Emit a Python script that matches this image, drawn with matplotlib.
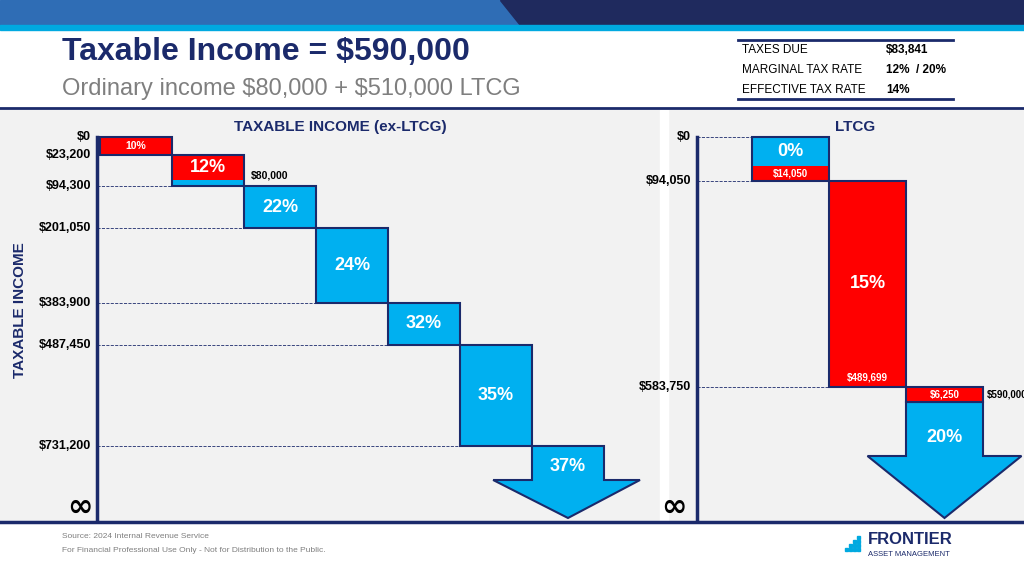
import matplotlib
matplotlib.use("Agg")
import numpy as np
import matplotlib.pyplot as plt
from matplotlib.patches import Rectangle, Polygon

plt.rcParams['font.family'] = ['Liberation Sans', 'DejaVu Sans']
NAVY = "#1B2A6B"; BLUE = "#00B0F0"; RED = "#FF0000"; GREY = "#7F7F7F"

# Ordinary income brackets (ex-LTCG)
ord_rates = ["10%", "12%", "22%", "24%", "32%", "35%", "37%"]
ord_lo = [0, 23200, 94300, 201050, 383900, 487450, 731200]
ord_hi = [23200, 94300, 201050, 383900, 487450, 731200, None]
ord_ticks = [0, 23200, 94300, 201050, 383900, 487450, 731200]
ord_tick_labels = ["$0", "$23,200", "$94,300", "$201,050", "$383,900", "$487,450", "$731,200"]
ordinary_income = 80000

# LTCG brackets
lt_rates = ["0%", "15%", "20%"]
lt_lo = [0, 94050, 583750]
lt_hi = [94050, 583750, None]
lt_ticks = [0, 94050, 583750]
lt_tick_labels = ["$0", "$94,050", "$583,750"]
lt_filled = ["$14,050", "$489,699", "$6,250"]
total_income = 590000

summary_labels = ["TAXES DUE", "MARGINAL TAX RATE", "EFFECTIVE TAX RATE"]
summary_values = ["$83,841", "12%  / 20%", "14%"]

W, H = 1024, 572
fig = plt.figure(figsize=(W/100, H/100), dpi=100)
bg = fig.add_axes([0, 0, 1, 1]); bg.set_xlim(0, W); bg.set_ylim(H, 0); bg.axis("off")

# header
bg.add_patch(Rectangle((0, 0), W, 25, color="#2F6DB5"))
bg.add_patch(Polygon([(500, 0), (W, 0), (W, 25), (520, 25)], color="#1F2A5E"))
bg.add_patch(Rectangle((0, 25), W, 5, color="#00A9E0"))
bg.text(62, 52, "Taxable Income = \\$590,000", fontsize=23, fontweight="bold", color=NAVY, va="center")
bg.text(62, 89, "Ordinary income \\$80,000 + \\$510,000 LTCG", fontsize=17, color=GREY, va="center")
bg.plot([738, 953], [40, 40], color=NAVY, lw=2)
bg.plot([738, 953], [99, 99], color=NAVY, lw=2)
for i, (l, v) in enumerate(zip(summary_labels, summary_values)):
    y = 50 + i * 20
    bg.text(742, y, l, fontsize=8.5, color="black", va="center")
    bg.text(886, y, v.replace("$", "\\$"), fontsize=8.5, fontweight="bold", color="black", va="center")
bg.add_patch(Rectangle((0, 110), W, 412, color="#F2F2F2"))
bg.add_patch(Rectangle((660, 110), 8, 412, color="white"))
bg.plot([0, W], [108, 108], color=NAVY, lw=2)
bg.plot([0, W], [522, 522], color=NAVY, lw=2.5)
bg.text(340, 127, "TAXABLE INCOME (ex-LTCG)", fontsize=11, fontweight="bold", color=NAVY, ha="center", va="center")
bg.text(855, 127, "LTCG", fontsize=11, fontweight="bold", color=NAVY, ha="center", va="center")
bg.text(20, 310, "TAXABLE INCOME", fontsize=11, fontweight="bold", color=NAVY, rotation=90, ha="center", va="center")
bg.text(80, 507, "∞", fontsize=22, fontweight="bold", color="black", ha="center", va="center", family="DejaVu Sans")
bg.text(674, 507, "∞", fontsize=22, fontweight="bold", color="black", ha="center", va="center", family="DejaVu Sans")
bg.text(62, 537, "Source: 2024 Internal Revenue Service", fontsize=6, color=GREY, va="center")
bg.text(62, 550, "For Financial Professional Use Only - Not for Distribution to the Public.", fontsize=6, color=GREY, va="center")
bg.text(868, 540, "FRONTIER", fontsize=12, fontweight="bold", color=NAVY, va="center")
bg.text(868, 555, "ASSET MANAGEMENT", fontsize=5.5, color=NAVY, va="center")
for r in range(4):
    for c in range(r + 1):
        bg.add_patch(Rectangle((845 + 4*c - 4*r + 12, 536 + 4*r), 3, 3, color="#00A9E0"))

def make_scale(vals, pix):
    v = np.asarray(vals, float); p = np.asarray(pix, float)
    fwd = lambda y: np.interp(y, v, p)
    inv = lambda q: np.interp(q, p, v)
    return fwd, inv

def panel(x0, x1, first_x, bw, fwd, inv, ticks, labels, axis_x):
    y_top_px, y_bot_px = 110, 522
    ax = fig.add_axes([x0/W, 1 - y_bot_px/H, (x1-x0)/W, (y_bot_px-y_top_px)/H])
    ax.set_yscale('function', functions=(fwd, inv))
    ax.set_xlim(-(first_x - x0)/bw, (x1 - first_x)/bw)
    ax.set_ylim(inv(y_bot_px), inv(y_top_px))
    ax.axis("off")
    axx = ax.get_xlim()[0] + (axis_x - x0)/bw
    ax.plot([axx, axx], [0, inv(y_bot_px)], color=NAVY, lw=2.5)
    for i, (t, lab) in enumerate(zip(ticks, labels)):
        ax.plot([axx, i], [t, t], ls="--", color=NAVY, lw=0.6)
        ax.text(axx - 0.08, t, lab.replace("$", "\\$"), fontsize=9, fontweight="bold", ha="right", va="center")
    return ax

# left panel pixel anchors of the bracket ticks (non-uniform spacing as drawn)
f1, i1 = make_scale([-100000] + ord_ticks + [2000000],
                    [59.4, 137, 155, 186, 228, 303, 345, 446, 971.7])
ax1 = panel(0, 660, 100, 72, f1, i1, ord_ticks, ord_tick_labels, 97)
for i, (r, a, b) in enumerate(zip(ord_rates, ord_lo, ord_hi)):
    if b is None:
        ys = i1(f1(a) + 34); tip = i1(518)
        ax1.add_patch(Polygon([(i, a), (i+1, a), (i+1, ys), (i+1.5, ys), (i+0.5, tip), (i-0.54, ys), (i, ys)],
                              facecolor=BLUE, edgecolor=NAVY, lw=1.5))
        ax1.text(i+0.5, i1(f1(a) + 21), r, color="white", fontsize=13, fontweight="bold", ha="center", va="center")
        continue
    mid = i1((f1(a) + f1(b)) / 2)
    if b <= ordinary_income:
        ax1.add_patch(Rectangle((i, a), 1, b-a, facecolor=RED, edgecolor=NAVY, lw=1.5))
        ax1.text(i+0.5, mid, r, color="white", fontsize=7.5, fontweight="bold", ha="center", va="center")
    elif a < ordinary_income:
        ax1.add_patch(Rectangle((i, a), 1, ordinary_income-a, facecolor=RED, lw=0))
        ax1.add_patch(Rectangle((i, ordinary_income), 1, b-ordinary_income, facecolor=BLUE, lw=0))
        ax1.add_patch(Rectangle((i, a), 1, b-a, fill=False, edgecolor=NAVY, lw=1.5))
        ax1.text(i+0.5, i1((f1(a)+f1(ordinary_income))/2), r, color="white", fontsize=13, fontweight="bold", ha="center", va="center")
        ax1.text(i+1.1, i1(f1(a) + 20), "\\$80,000", fontsize=7.5, fontweight="bold", ha="left", va="center")
    else:
        ax1.add_patch(Rectangle((i, a), 1, b-a, facecolor=BLUE, edgecolor=NAVY, lw=1.5))
        ax1.text(i+0.5, mid, r, color="white", fontsize=13, fontweight="bold", ha="center", va="center")

f2, i2 = make_scale([-100000] + lt_ticks + [2000000], [90.2, 137, 181, 387, 982.8])
ax2 = panel(668, 1024, 752, 77, f2, i2, lt_ticks, lt_tick_labels, 697)
SP = 15  # red strip height in pixels
for i, (r, a, b, f) in enumerate(zip(lt_rates, lt_lo, lt_hi, lt_filled)):
    if i == 0:
        s = i2(f2(b) - SP)
        ax2.add_patch(Rectangle((i, a), 1, s-a, facecolor=BLUE, lw=0))
        ax2.add_patch(Rectangle((i, s), 1, b-s, facecolor=RED, lw=0))
        ax2.add_patch(Rectangle((i, a), 1, b-a, fill=False, edgecolor=NAVY, lw=1.5))
        ax2.text(i+0.5, i2((f2(a)+f2(s))/2), r, color="white", fontsize=13, fontweight="bold", ha="center", va="center")
        ax2.text(i+0.5, i2(f2(b) - SP/2), f.replace("$", "\\$"), color="white", fontsize=7, fontweight="bold", ha="center", va="center")
    elif b is not None:
        ax2.add_patch(Rectangle((i, a), 1, b-a, facecolor=RED, edgecolor=NAVY, lw=1.5))
        ax2.text(i+0.5, i2(f2(a) + 103), r, color="white", fontsize=13, fontweight="bold", ha="center", va="center")
        ax2.text(i+0.5, i2(f2(b) - 9), f.replace("$", "\\$"), color="white", fontsize=7, fontweight="bold", ha="center", va="center")
    else:
        s = i2(f2(a) + SP); ys = i2(f2(a) + 69); tip = i2(518)
        ax2.add_patch(Polygon([(i, s), (i+1, s), (i+1, ys), (i+1.5, ys), (i+0.5, tip), (i-0.5, ys), (i, ys)],
                              facecolor=BLUE, edgecolor=NAVY, lw=1.5))
        ax2.add_patch(Rectangle((i, a), 1, s-a, facecolor=RED, edgecolor=NAVY, lw=1.5))
        ax2.text(i+0.5, i2(f2(a) + SP/2), f.replace("$", "\\$"), color="white", fontsize=7, fontweight="bold", ha="center", va="center")
        ax2.text(i+1.05, i2(f2(a) + 8), "\\$590,000", fontsize=7, fontweight="bold", ha="left", va="center")
        ax2.text(i+0.5, i2(f2(a) + 51), r, color="white", fontsize=13, fontweight="bold", ha="center", va="center")

fig.savefig("out.png", dpi=100)
